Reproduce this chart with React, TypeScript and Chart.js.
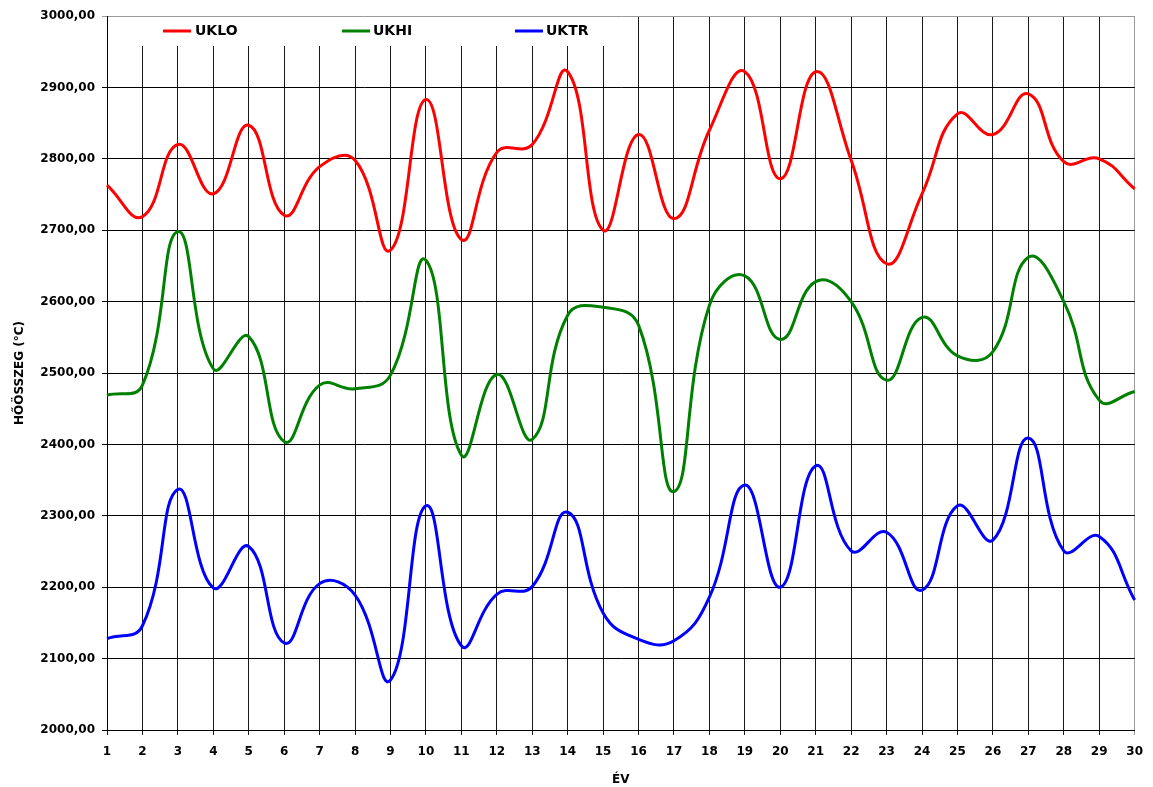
import React, { useEffect, useRef } from "react";
import { Chart, registerables } from "chart.js";

Chart.register(...registerables);

const years = Array.from({ length: 30 }, (_, i) => String(i + 1));

const ukloValues = [
  2763, 2719, 2820, 2751, 2847, 2721, 2789, 2798, 2672, 2883,
  2687, 2809, 2820, 2922, 2700, 2834, 2716, 2840, 2922, 2772,
  2922, 2798, 2653, 2751, 2863, 2834, 2891, 2796, 2800, 2758,
];

const ukhiValues = [
  2469, 2483, 2698, 2506, 2551, 2404, 2483, 2478, 2497, 2658,
  2385, 2498, 2407, 2581, 2592, 2567, 2334, 2595, 2636, 2547,
  2628, 2600, 2490, 2578, 2524, 2530, 2662, 2600, 2462, 2474,
];

const uktrValues = [
  2128, 2146, 2337, 2199, 2257, 2122, 2205, 2189, 2070, 2314,
  2118, 2190, 2201, 2305, 2164, 2127, 2125, 2186, 2343, 2200,
  2370, 2251, 2277, 2196, 2314, 2266, 2409, 2251, 2271, 2182,
];

const seriesNames = ["UKLO", "UKHI", "UKTR"];
const seriesColors = ["#ff0000", "#008000", "#0000ff"];

const yMin = 2000;
const yMax = 3000;
const yStep = 100;

const FONT = "'DejaVu Sans', 'Liberation Sans', Arial, sans-serif";

const legendPlugin = {
  id: "insideLegend",
  beforeDatasetsDraw(chart: any) {
    const { ctx, chartArea } = chart;
    ctx.save();
    ctx.fillStyle = "#ffffff";
    ctx.fillRect(chartArea.left + 1, chartArea.top + 1, 515, 29);
    ctx.restore();
  },
  afterDatasetsDraw(chart: any) {
    const { ctx } = chart;
    const items = [
      { x: 163, tx: 195 },
      { x: 342, tx: 373 },
      { x: 515, tx: 546 },
    ];
    ctx.save();
    ctx.font = `bold 14px ${FONT}`;
    ctx.textBaseline = "middle";
    ctx.textAlign = "left";
    chart.data.datasets.forEach((ds: any, i: number) => {
      const it = items[i];
      ctx.strokeStyle = ds.borderColor;
      ctx.lineWidth = 3;
      ctx.beginPath();
      ctx.moveTo(it.x, 31);
      ctx.lineTo(it.x + 28, 31);
      ctx.stroke();
      ctx.fillStyle = "#000";
      ctx.fillText(ds.label, it.tx, 31);
    });
    ctx.restore();
  },
};

export default function App() {
  const canvasRef = useRef<HTMLCanvasElement | null>(null);

  useEffect(() => {
    if (!canvasRef.current) return;
    const data = [ukloValues, ukhiValues, uktrValues];
    const chart = new Chart(canvasRef.current, {
      type: "line",
      data: {
        labels: years,
        datasets: data.map((vals, i) => ({
          label: seriesNames[i],
          data: vals,
          borderColor: seriesColors[i],
          backgroundColor: seriesColors[i],
          borderWidth: 3,
          pointRadius: 0,
          tension: 0.45,
          fill: false,
        })),
      },
      options: {
        animation: false,
        responsive: false,
        maintainAspectRatio: false,
        layout: { padding: { top: 16, right: 15, left: 0, bottom: 0 } },
        plugins: {
          legend: { display: false },
          tooltip: { enabled: false },
        },
        scales: {
          x: {
            type: "category",
            offset: false,
            grid: {
              offset: false,
              color: (c: any) => (c.index === years.length - 1 ? "#9a9a9a" : "#1a1a1a"),
              lineWidth: 1,
              tickLength: 5,
              drawTicks: true,
            },
            border: { color: "#000", width: 1 },
            ticks: {
              color: "#000",
              font: { family: FONT, size: 12, weight: "bold" },
              padding: 10,
              maxRotation: 0,
              autoSkip: false,
            },
            title: {
              display: true,
              text: "ÉV",
              color: "#000",
              font: { family: FONT, size: 12, weight: "bold" },
              padding: { top: 0, bottom: 0 },
            },
            afterFit: (scale: any) => {
              scale.height = 57;
            },
          },
          y: {
            min: yMin,
            max: yMax,
            grid: {
              color: (c: any) => (c.tick && c.tick.value === yMax ? "#9a9a9a" : "#000"),
              lineWidth: 1,
              tickLength: 5,
            },
            border: { color: "#000", width: 1 },
            ticks: {
              stepSize: yStep,
              color: "#000",
              font: { family: FONT, size: 12, weight: "bold" },
              padding: 7,
              callback: (v: any) => Number(v).toFixed(2).replace(".", ","),
            },
            title: {
              display: true,
              text: "HŐÖSSZEG (°C)",
              color: "#000",
              font: { family: FONT, size: 12, weight: "bold" },
              padding: { top: 13, bottom: 0 },
            },
            afterFit: (scale: any) => {
              scale.width = 107;
            },
          },
        },
      },
      plugins: [legendPlugin],
    });
    return () => chart.destroy();
  }, []);

  return (
    <div style={{ position: "fixed", left: 0, top: 0, width: 1153, height: 787, background: "#fff" }}>
      <canvas ref={canvasRef} width={1153} height={787} style={{ width: 1153, height: 787 }} />
    </div>
  );
}
